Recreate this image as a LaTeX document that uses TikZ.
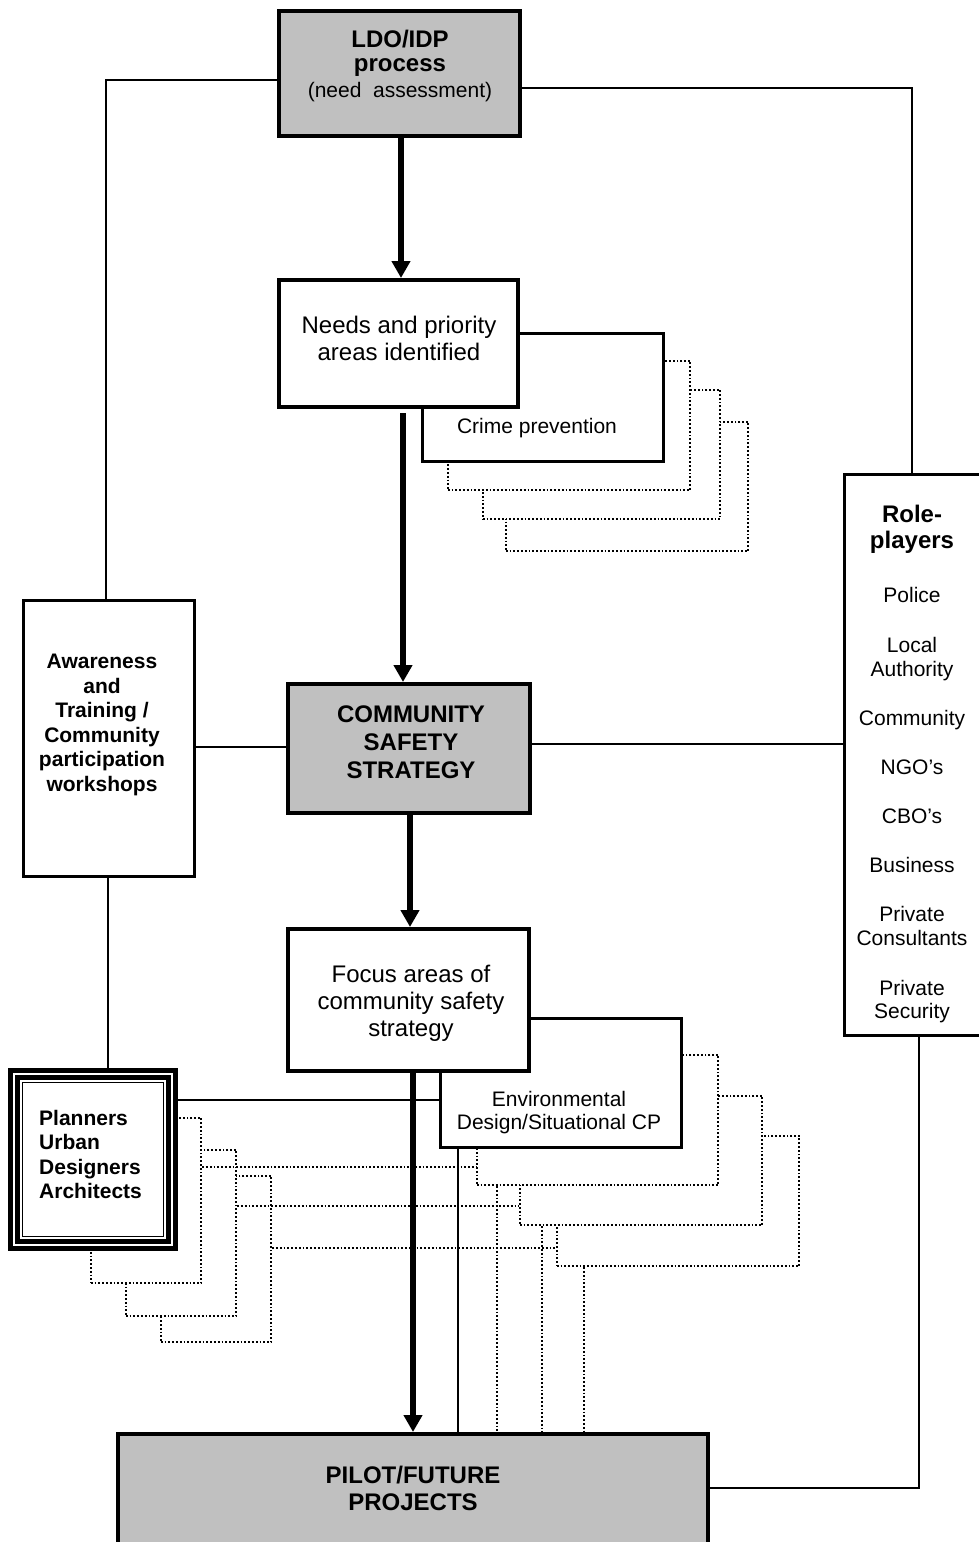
\documentclass[tikz,border=0pt]{standalone}
\usepackage{fontspec}
\setmainfont{Liberation Sans}
\usetikzlibrary{arrows.meta}
\definecolor{boxgray}{RGB}{192,192,192}
\tikzset{
  boxA/.style={draw, line width=4pt, inner sep=0pt, fill=white},
  boxB/.style={draw, line width=3pt, inner sep=0pt, fill=white},
  dotbox/.style={draw, line width=1.8pt, dash pattern=on 1.8pt off 2pt, inner sep=0pt, fill=white},
  link/.style={line width=1.6pt},
  dotlink/.style={line width=1.8pt, dash pattern=on 1.8pt off 2pt},
  arr/.style={line width=5.5pt, -{Triangle[width=18pt,length=17pt]}},
  tx/.style={inner sep=0pt, anchor=base},
  txl/.style={inner sep=0pt, anchor=base west},
  b24/.style={font=\fontsize{24}{28}\selectfont\bfseries},
  r24/.style={font=\fontsize{24}{28}\selectfont},
  b21/.style={font=\fontsize{21}{25}\selectfont\bfseries},
  r21/.style={font=\fontsize{21}{25}\selectfont},
}
\begin{document}
\begin{tikzpicture}[x=1pt,y=-1pt]
\useasboundingbox (0,0) rectangle (979,1542);
\clip (0,0) rectangle (979,1542);

% ---------- boxes, back to front ----------
\node[boxA, fill=boxgray, minimum width=241pt, minimum height=125pt] (ldo) at (399.5,73.5) {};
\node[dotbox, minimum width=242.5pt, minimum height=129.5pt] (c3) at (627,486.5) {};
\node[dotbox, minimum width=237.5pt, minimum height=129.5pt] (c2) at (601.5,454.5) {};
\node[dotbox, minimum width=242.5pt, minimum height=129.5pt] (c1) at (569,425.5) {};
\node[boxB, minimum width=241pt, minimum height=128pt] (crime) at (543,397.5) {};
\node[boxA, minimum width=239pt, minimum height=127pt] (needs) at (398.5,343.5) {};
\node[boxB, minimum width=171pt, minimum height=276pt] (aw) at (109,738.5) {};
\node[boxA, fill=boxgray, minimum width=242pt, minimum height=129pt] (css) at (409,748.5) {};
\node[boxB, minimum width=138pt, minimum height=561pt] (role) at (913.5,755) {};
\node[dotbox, minimum width=242.5pt, minimum height=130.5pt] (d3) at (678,1201) {};
\node[dotbox, minimum width=242.5pt, minimum height=129.5pt] (d2) at (641,1160.5) {};
\node[dotbox, minimum width=241.5pt, minimum height=130.5pt] (d1) at (597.5,1120) {};
\node[boxB, minimum width=241pt, minimum height=129pt] (env) at (561,1083) {};
\node[boxA, minimum width=241pt, minimum height=142pt] (focus) at (408.5,1000) {};
\node[dotbox, minimum width=110.5pt, minimum height=166.5pt] (p3) at (216,1259) {};
\node[dotbox, minimum width=110.5pt, minimum height=166.5pt] (p2) at (181,1233) {};
\node[dotbox, minimum width=110.5pt, minimum height=165.5pt] (p1) at (146,1200.5) {};
\node[draw, line width=5pt, inner sep=0pt, fill=white, minimum width=165pt, minimum height=178pt] (pl) at (93,1159.5) {};
\draw[line width=4.5pt] ([shift={(9.5pt,-9.5pt)}]pl.north west) rectangle ([shift={(-9.5pt,9.5pt)}]pl.south east);
\draw[line width=1.8pt] ([shift={(14.5pt,-14.5pt)}]pl.north west) rectangle ([shift={(-14.5pt,14.5pt)}]pl.south east);
\node[boxA, fill=boxgray, minimum width=590pt, minimum height=134pt] (pilot) at (413,1501) {};

% ---------- connectors ----------
\draw[link] ([yshift=-6.5pt]ldo.west) -| ([xshift=-3pt]aw.north);
\draw[link] ([yshift=-14.5pt]ldo.east) -| ([xshift=-1.5pt]role.north);
\draw[arr] ([xshift=1.5pt]ldo.south) -- ([xshift=2.5pt]needs.north);
\draw[arr, shorten <=4pt] ([xshift=4.5pt]needs.south) -- ([xshift=-6pt]css.north);
\draw[link] ([yshift=1.5pt]css.west) -- ([yshift=-8.5pt]aw.east);
\draw[link] ([yshift=4.5pt]css.east) -- ([yshift=11pt]role.west);
\draw[arr] ([xshift=1pt]css.south) -- ([xshift=1.5pt]focus.north);
\draw[link] ([xshift=-1pt]aw.south) -- ([xshift=15pt]pl.north);
\draw[link] ([yshift=59.5pt]pl.east) -- ([yshift=-17pt]env.west);
\draw[dotlink] ([yshift=33.5pt]p1.east) -- ([yshift=-47pt]d1.west);
\draw[dotlink] ([yshift=27pt]p2.east) -- ([yshift=-45.5pt]d2.west);
\draw[dotlink] ([yshift=11pt]p3.east) -- ([yshift=-47pt]d3.west);
\draw[dotlink] ([xshift=-100.5pt]d1.south) -- ([xshift=84pt]pilot.north);
\draw[dotlink] ([xshift=-99pt]d2.south) -- ([xshift=129pt]pilot.north);
\draw[dotlink] ([xshift=-94pt]d3.south) -- ([xshift=171pt]pilot.north);
\draw[link] ([xshift=-103pt]env.south) -- ([xshift=45pt]pilot.north);
\draw[arr] ([xshift=4.5pt]focus.south) -- (pilot.north);
\draw[link] ([xshift=5.5pt]role.south) |- ([yshift=13pt]pilot.east);

% ---------- texts ----------
\node[tx,b24] (t-ldo1) at (400,47) {LDO/IDP};
\node[tx,b24] (t-ldo2) at (400,71) {process};
\node[tx,r21] (t-ldo3) at (400,97) {(need\ \ assessment)};
\node[tx,r24] (t-nd1) at (399,333) {Needs and priority};
\node[tx,r24] (t-nd2) at (399,360) {areas identified};
\node[tx,r21] (t-cp) at (537,433) {Crime prevention};
\node[tx,b24] (t-cs1) at (411,722) {COMMUNITY};
\node[tx,b24] (t-cs2) at (411,750) {SAFETY};
\node[tx,b24] (t-cs3) at (411,778) {STRATEGY};
\node[tx,b21] (t-aw1) at (102,668) {Awareness};
\node[tx,b21] (t-aw2) at (102,693) {and};
\node[tx,b21] (t-aw3) at (102,717) {Training /};
\node[tx,b21] (t-aw4) at (102,742) {Community};
\node[tx,b21] (t-aw5) at (102,766) {participation};
\node[tx,b21] (t-aw6) at (102,791) {workshops};
\node[tx,b24] (t-r1) at (912,522) {Role-};
\node[tx,b24] (t-r2) at (912,548) {players};
\node[tx,r21] (t-r3) at (912,602) {Police};
\node[tx,r21] (t-r4) at (912,652) {Local};
\node[tx,r21] (t-r5) at (912,676) {Authority};
\node[tx,r21] (t-r6) at (912,725) {Community};
\node[tx,r21] (t-r7) at (912,774) {NGO’s};
\node[tx,r21] (t-r8) at (912,823) {CBO’s};
\node[tx,r21] (t-r9) at (912,872) {Business};
\node[tx,r21] (t-r10) at (912,921) {Private};
\node[tx,r21] (t-r11) at (912,945) {Consultants};
\node[tx,r21] (t-r12) at (912,995) {Private};
\node[tx,r21] (t-r13) at (912,1018) {Security};
\node[tx,r24] (t-f1) at (411,982) {Focus areas of};
\node[tx,r24] (t-f2) at (411,1009) {community safety};
\node[tx,r24] (t-f3) at (411,1036) {strategy};
\node[tx,r21] (t-e1) at (559,1106) {Environmental};
\node[tx,r21] (t-e2) at (559,1129) {Design/Situational CP};
\node[txl,b21] (t-p1) at (39,1125) {Planners};
\node[txl,b21] (t-p2) at (39,1149) {Urban};
\node[txl,b21] (t-p3) at (39,1174) {Designers};
\node[txl,b21] (t-p4) at (39,1198) {Architects};
\node[tx,b24] (t-pi1) at (413,1483) {PILOT/FUTURE};
\node[tx,b24] (t-pi2) at (413,1510) {PROJECTS};
\end{tikzpicture}
\end{document}
